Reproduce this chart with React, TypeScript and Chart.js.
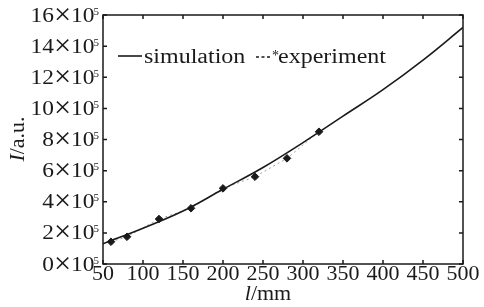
import React, { useEffect, useRef } from "react";
import { Chart, registerables } from "chart.js";
Chart.register(...registerables);

const xTicks = [50, 100, 150, 200, 250, 300, 350, 400, 450, 500];
const yTicks = [0, 2, 4, 6, 8, 10, 12, 14, 16];
const simX = [50, 100, 150, 200, 250, 300, 350, 400, 450, 500];
const simY = [1.3, 2.3, 3.4, 4.8, 6.2, 7.8, 9.5, 11.2, 13.1, 15.2];
const expX = [60, 80, 120, 160, 200, 240, 280, 320];
const expY = [1.43, 1.75, 2.89, 3.58, 4.86, 5.61, 6.79, 8.5];

const INK = "#1a1a1a";
const SERIF = '"Liberation Serif", "Times New Roman", serif';

function stretched(ctx: any, text: string, x: number, y: number, font: string, sx: number) {
  ctx.save();
  ctx.font = font;
  ctx.translate(x, y);
  ctx.scale(sx, 1);
  ctx.fillText(text, 0, 0);
  ctx.restore();
}
function width(ctx: any, text: string, font: string, sx: number) {
  ctx.save();
  ctx.font = font;
  const w = ctx.measureText(text).width * sx;
  ctx.restore();
  return w;
}

const framePlugin = {
  id: "frame",
  afterDraw(chart: any) {
    const ctx = chart.ctx;
    const { left, right, top, bottom } = chart.chartArea;
    const xs = chart.scales.x;
    const ys = chart.scales.y;
    ctx.save();
    ctx.strokeStyle = INK;
    ctx.lineWidth = 1.5;
    ctx.strokeRect(left, top, right - left, bottom - top);
    const tl = 4;
    ctx.beginPath();
    xTicks.forEach((v) => {
      const px = xs.getPixelForValue(v);
      ctx.moveTo(px, bottom);
      ctx.lineTo(px, bottom - tl);
      ctx.moveTo(px, top);
      ctx.lineTo(px, top + tl);
    });
    yTicks.forEach((v) => {
      const py = ys.getPixelForValue(v);
      ctx.moveTo(left, py);
      ctx.lineTo(left + tl, py);
      ctx.moveTo(right, py);
      ctx.lineTo(right - tl, py);
    });
    ctx.stroke();

    ctx.fillStyle = INK;
    ctx.textBaseline = "alphabetic";
    const sx = 1.1;
    const sy = 1.17;
    const F = `20px ${SERIF}`;
    const FX = `29px ${SERIF}`;
    const FS = `11px ${SERIF}`;
    xTicks.forEach((v) => {
      const px = xs.getPixelForValue(v);
      const t = String(v);
      const w = width(ctx, t, F, sx);
      stretched(ctx, t, px - w / 2, bottom + 16, F, sx);
    });
    yTicks.forEach((v) => {
      const py = ys.getPixelForValue(v);
      const n = String(v);
      const wn = width(ctx, n, F, sy);
      const wx = width(ctx, "×", FX, 1.05);
      const w10 = width(ctx, "10", F, sy);
      const w5 = width(ctx, "5", FS, 1);
      const xEnd = left - 3;
      let x = xEnd - w5 - w10 - wx - wn;
      const by = py + 6.5;
      stretched(ctx, n, x, by, F, sy);
      x += wn;
      stretched(ctx, "×", x, by + 2, FX, 1.05);
      x += wx;
      stretched(ctx, "10", x, by, F, sy);
      x += w10;
      stretched(ctx, "5", x - 1, by - 7, FS, 1);
    });
    // x title
    const FI = `italic 20px ${SERIF}`;
    const aw = width(ctx, "l", FI, sx);
    const bw = width(ctx, "/mm", F, sx);
    const tx = 268 - (aw + bw) / 2;
    stretched(ctx, "l", tx, 300, FI, sx);
    stretched(ctx, "/mm", tx + aw, 300, F, sx);
    // y title
    ctx.save();
    ctx.translate(24, 139);
    ctx.rotate(-Math.PI / 2);
    const cw = width(ctx, "I", FI, sx);
    const dw = width(ctx, "/a.u.", F, sx);
    const t0 = -(cw + dw) / 2;
    stretched(ctx, "I", t0, 0, FI, sx);
    stretched(ctx, "/a.u.", t0 + cw, 0, F, sx);
    ctx.restore();

    // legend
    const ly = 56;
    ctx.lineWidth = 1.6;
    ctx.beginPath();
    ctx.moveTo(118, ly);
    ctx.lineTo(142, ly);
    ctx.stroke();
    const ls = 1.2;
    const FL = `20px ${SERIF}`;
    stretched(ctx, "simulation", 144, ly + 7, FL, ls);
    ctx.save();
    ctx.lineWidth = 1.3;
    ctx.setLineDash([3, 2.5]);
    ctx.beginPath();
    ctx.moveTo(256, ly + 1);
    ctx.lineTo(272, ly + 1);
    ctx.stroke();
    ctx.restore();
    stretched(ctx, "*", 272, ly + 4, `14px ${SERIF}`, 1);
    stretched(ctx, "experiment", 278, ly + 7, FL, ls);
    ctx.restore();
  },
};

export default function App() {
  const ref = useRef<HTMLCanvasElement>(null);
  useEffect(() => {
    if (!ref.current) return;
    let chart: any = null;
    let cancelled = false;
    const make = () => {
      if (cancelled || !ref.current) return;
      chart = new Chart(ref.current, {
        type: "line",
        data: {
          datasets: [
            {
              label: "simulation",
              data: simX.map((x, i) => ({ x, y: simY[i] })),
              borderColor: INK,
              borderWidth: 1.6,
              pointRadius: 0,
              tension: 0.4,
              fill: false,
            },
            {
              label: "experiment",
              data: expX.map((x, i) => ({ x, y: expY[i] })),
              borderColor: "rgba(40,40,40,0.45)",
              borderWidth: 1,
              borderDash: [2, 3],
              pointStyle: "rectRot",
              pointRadius: 3.8,
              pointBackgroundColor: INK,
              pointBorderColor: INK,
              pointBorderWidth: 1,
              fill: false,
            },
          ],
        },
        options: {
          animation: false,
          responsive: false,
          maintainAspectRatio: false,
          layout: { padding: { left: 103, right: 21, top: 15, bottom: 43 } },
          plugins: { legend: { display: false }, tooltip: { enabled: false } },
          scales: {
            x: { type: "linear", min: 50, max: 500, display: false },
            y: { type: "linear", min: 0, max: 16, display: false },
          },
        },
        plugins: [framePlugin],
      });
    };
    Promise.all([
      document.fonts.load('20px "Liberation Serif"'),
      document.fonts.load('italic 20px "Liberation Serif"'),
    ])
      .catch(() => null)
      .then(make);
    return () => {
      cancelled = true;
      if (chart) chart.destroy();
    };
  }, []);
  return (
    <div style={{ position: "fixed", left: 0, top: 0, width: 484, height: 307, background: "#fff" }}>
      <canvas ref={ref} width={484} height={307} />
    </div>
  );
}
